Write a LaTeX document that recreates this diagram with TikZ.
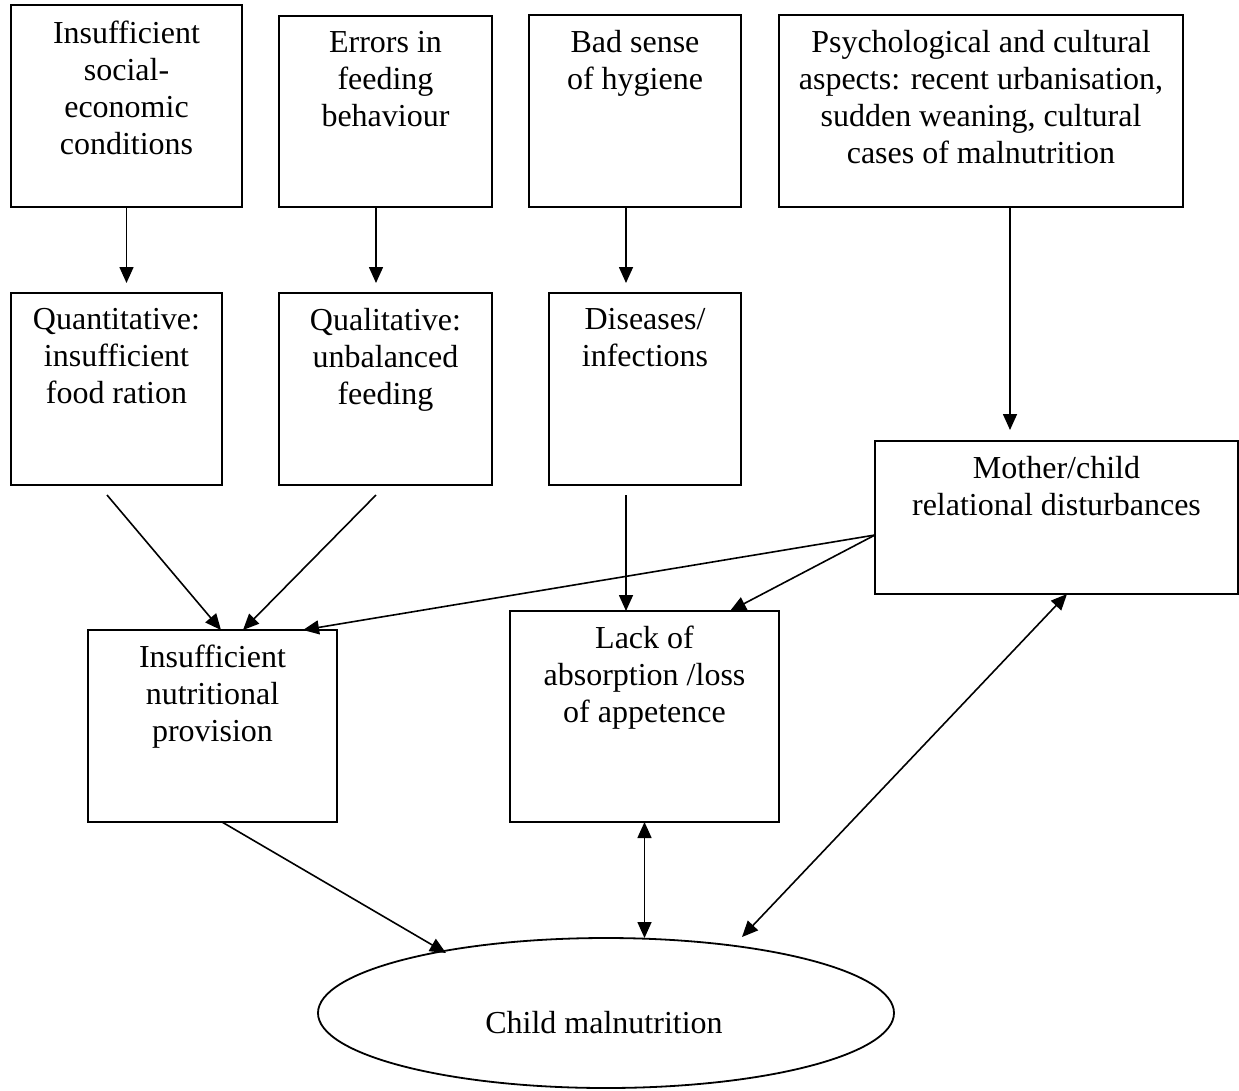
\documentclass[tikz,border=0pt]{standalone}
\usepackage{fontspec}
\setmainfont{Liberation Serif}
\usetikzlibrary{arrows.meta,shapes.geometric}

\begin{document}
\begin{tikzpicture}[x=1pt,y=-1pt,
  box/.style={draw, rectangle, line width=2pt, inner sep=0pt, outer sep=0pt},
  lbl/.style={anchor=north, align=center, inner sep=0pt,
    font=\fontsize{32}{36.8}\selectfont,
    execute at begin node={\rule{0pt}{25pt}}},
  tip/.tip={Triangle[length=16pt,width=14pt]},
  arr/.style={line width=1.6pt, -tip},
  darr/.style={line width=1.6pt, tip-tip}]
\useasboundingbox (0,0) rectangle (1239,1090);

% causes, top row
\node[box, minimum width=231pt, minimum height=202pt] (b1) at (126.5,106) {};
\node[lbl] (t1) at (126.5,21) {Insufficient\\social-\\economic\\conditions};
\node[box, minimum width=213pt, minimum height=191pt] (b2) at (385.5,111.5) {};
\node[lbl] (t2) at (385.5,31.5) {Errors in\\feeding\\behaviour};
\node[box, minimum width=212pt, minimum height=192pt] (b3) at (635,111) {};
\node[lbl] (t3) at (635,30.5) {Bad sense\\of hygiene};
\node[box, minimum width=404pt, minimum height=192pt] (b4) at (981,111) {};
\node[lbl] (t4) at (981,30.5) {Psychological and cultural\\aspects: recent urbanisation,\\sudden weaning, cultural\\cases of malnutrition};

% second row
\node[box, minimum width=211pt, minimum height=192pt] (b5) at (116.5,389) {};
\node[lbl] (t5) at (116.5,308.5) {Quantitative:\\insufficient\\food ration};
\node[box, minimum width=213pt, minimum height=192pt] (b6) at (385.5,389) {};
\node[lbl] (t6) at (385.5,308.5) {Qualitative:\\unbalanced\\feeding};
\node[box, minimum width=192pt, minimum height=192pt] (b7) at (645,389) {};
\node[lbl] (t7) at (645,308.5) {Diseases/\\infections};
\node[box, minimum width=363pt, minimum height=153pt] (b8) at (1056.5,517.5) {};
\node[lbl] (t8) at (1056.5,456) {Mother/child\\relational disturbances};

% third row
\node[box, minimum width=249pt, minimum height=192pt] (b9) at (212.5,726) {};
\node[lbl] (t9) at (212.5,645) {Insufficient\\nutritional\\provision};
\node[box, minimum width=269pt, minimum height=211pt] (b10) at (644.5,716.5) {};
\node[lbl] (t10) at (644.5,626) {Lack of\\absorption /loss\\of appetence};

% outcome
\node[draw, ellipse, line width=1.8pt, inner sep=0pt, outer sep=0pt,
      minimum width=576pt, minimum height=150pt] (ell) at (606,1013) {};
\node[anchor=base, inner sep=0pt, font=\fontsize{32}{36.8}\selectfont] (tell) at (604,1033) {Child malnutrition};

% connectors
\draw[arr] (b1.south) -- ([yshift=10pt]b5.north -| b1.south);
\draw[arr] ([xshift=-9.5pt]b2.south) -- ([xshift=-9.5pt,yshift=10pt]b6.north);
\draw[arr] ([xshift=-9pt]b3.south) -- ([xshift=-19pt,yshift=10pt]b7.north);
\draw[arr] ([xshift=29pt]b4.south) -- ([xshift=-46.5pt,yshift=11pt]b8.north);

\draw[arr] ([xshift=-9.5pt,yshift=-10pt]b5.south) -- ([xshift=8.5pt]b9.north);
\draw[arr] ([xshift=-9.5pt,yshift=-10pt]b6.south) -- ([xshift=30.5pt]b9.north);
\draw[arr] ([xshift=-19pt,yshift=-10pt]b7.south) -- ([xshift=-18.5pt]b10.north);
\draw[arr] ([yshift=-17.5pt]b8.west) -- ([xshift=90.5pt]b9.north);
\draw[arr] ([yshift=-17.5pt]b8.west) -- ([xshift=85.5pt]b10.north);

\draw[arr] ([xshift=9.5pt]b9.south) -- ([xshift=-160pt,yshift=60pt]ell.center);
\draw[darr] (b10.south) -- ([xshift=38.5pt]ell.north);
\draw[darr] ([xshift=10.5pt]b8.south) -- ([xshift=136pt,yshift=76pt]ell.center);
\end{tikzpicture}
\end{document}
